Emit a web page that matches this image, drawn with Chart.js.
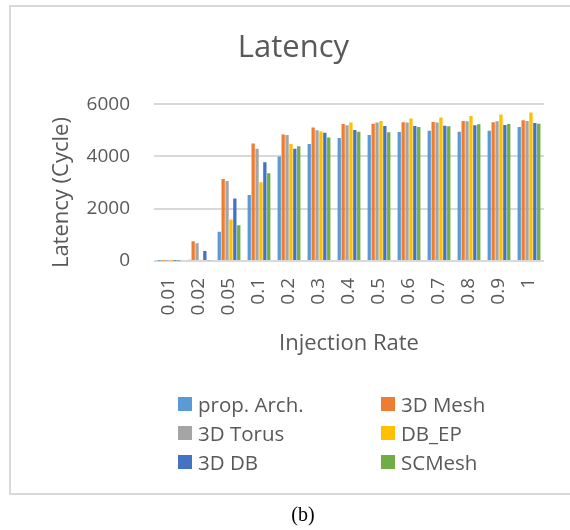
<!DOCTYPE html>
<html>
<head>
<meta charset="utf-8">
<script src="https://cdn.jsdelivr.net/npm/chart.js@4/dist/chart.umd.min.js"></script>
<style>
  html, body { margin: 0; padding: 0; background: #fff; }
  #wrap { position: relative; width: 570px; height: 530px; overflow: hidden; }
  #frame { position: absolute; left: 9px; top: 5px; width: 640px; height: 486px; border: 2px solid #d9d9d9; }
  #chart { position: absolute; left: 0; top: 0; }
  .item { position: absolute; display: flex; align-items: center; height: 28px;
          font: 20.5px 'Open Sans', sans-serif; color: #595959; white-space: nowrap; }
  .item i { display: inline-block; width: 14px; height: 14px; margin-right: 6px; }
  #caption { position: absolute; left: 0; width: 570px; top: 503px; text-align: center;
             font: 20px 'Liberation Serif', serif; color: #000; padding-left: 36px; box-sizing: border-box; }
</style>
</head>
<body>
<div id="wrap">
  <div id="frame"></div>
  <canvas id="chart" width="570" height="530"></canvas>
  <div id="legend"></div>
  <div id="caption">(b)</div>
</div>
<script>
// Injection rates on the x axis
const rates = ['0.01', '0.02', '0.05', '0.1', '0.2', '0.3', '0.4', '0.5', '0.6', '0.7', '0.8', '0.9', '1'];

// Average latency (cycles) per architecture
const propArch = [5, 50, 1115, 2525, 4000, 4475, 4705, 4820, 4935, 4985, 4950, 4985, 5130];
const mesh3d   = [5, 760, 3140, 4500, 4845, 5105, 5245, 5255, 5310, 5320, 5360, 5310, 5385];
const torus3d  = [5, 680, 3065, 4295, 4820, 5000, 5190, 5295, 5295, 5295, 5345, 5345, 5360];
const dbEp     = [5, 50, 1590, 3015, 4475, 4960, 5295, 5360, 5450, 5490, 5550, 5605, 5680];
const db3d     = [5, 385, 2395, 3780, 4295, 4910, 5015, 5165, 5165, 5180, 5190, 5205, 5280];
const scMesh   = [5, 30, 1370, 3360, 4395, 4730, 4950, 4925, 5130, 5155, 5230, 5245, 5255];

const seriesNames  = ['prop. Arch.', '3D Mesh', '3D Torus', 'DB_EP', '3D DB', 'SCMesh'];
const seriesValues = [propArch, mesh3d, torus3d, dbEp, db3d, scMesh];
const seriesColors = ['#5B9BD5', '#ED7D31', '#A5A5A5', '#FFC000', '#4472C4', '#70AD47'];

// Value axis
const yMin = 0, yMax = 6000, yStep = 2000;

const textColor = '#595959';
const gridColor = '#d9d9d9';
const sans = "'Open Sans', sans-serif";

// Rotated value-axis caption
const yTitlePlugin = {
  id: 'yTitle',
  afterDraw(chart) {
    const { ctx, chartArea } = chart;
    ctx.save();
    ctx.translate(62, (chartArea.top + chartArea.bottom) / 2 + 10);
    ctx.rotate(-Math.PI / 2);
    ctx.font = "22px " + sans;
    ctx.fillStyle = textColor;
    ctx.textAlign = 'center';
    ctx.textBaseline = 'middle';
    ctx.fillText('Latency (Cycle)', 0, 0);
    ctx.restore();
  }
};

const chart = new Chart(document.getElementById('chart'), {
  type: 'bar',
  data: {
    labels: rates,
    datasets: seriesNames.map((name, i) => ({
      label: name,
      data: seriesValues[i],
      backgroundColor: seriesColors[i],
      borderWidth: 0,
      categoryPercentage: 0.78,
      barPercentage: 0.85
    }))
  },
  options: {
    responsive: false,
    animation: false,
    layout: { padding: { left: 43, right: 26, top: 0, bottom: 0 } },
    plugins: {
      legend: { display: false },
      tooltip: { enabled: false },
      title: {
        display: true,
        text: 'Latency',
        color: textColor,
        font: { family: sans, size: 31, weight: 'normal' },
        padding: { top: 30, bottom: 37 }
      }
    },
    scales: {
      x: {
        grid: { display: false, drawTicks: false },
        border: { display: false },
        ticks: {
          color: textColor,
          font: { family: sans, size: 19 },
          minRotation: 90, maxRotation: 90,
          padding: 17,
          autoSkip: false
        },
        title: {
          display: true,
          text: 'Injection Rate',
          color: textColor,
          font: { family: sans, size: 22 },
          padding: { top: 0, bottom: 173 }
        },
        afterFit(scale) { scale.height = 269; }
      },
      y: {
        min: yMin, max: yMax,
        grid: { color: gridColor, lineWidth: 2, drawTicks: false },
        border: { display: false },
        ticks: {
          stepSize: yStep,
          color: textColor,
          font: { family: sans, size: 19 },
          padding: 24,
          callback: (v) => String(v)
        },
        afterFit(scale) { scale.width = 111; }
      }
    }
  },
  plugins: [yTitlePlugin]
});

// Two-column legend built from the chart's datasets
const legend = document.getElementById('legend');
const colX = [178, 381];
const rowY = [404, 433, 462];
chart.data.datasets.forEach((ds, i) => {
  const el = document.createElement('div');
  el.className = 'item';
  el.style.left = colX[i % 2] + 'px';
  el.style.top = (rowY[Math.floor(i / 2)] - 14) + 'px';
  const sw = document.createElement('i');
  sw.style.background = ds.backgroundColor;
  el.appendChild(sw);
  el.appendChild(document.createTextNode(ds.label));
  legend.appendChild(el);
});
</script>
</body>
</html>
